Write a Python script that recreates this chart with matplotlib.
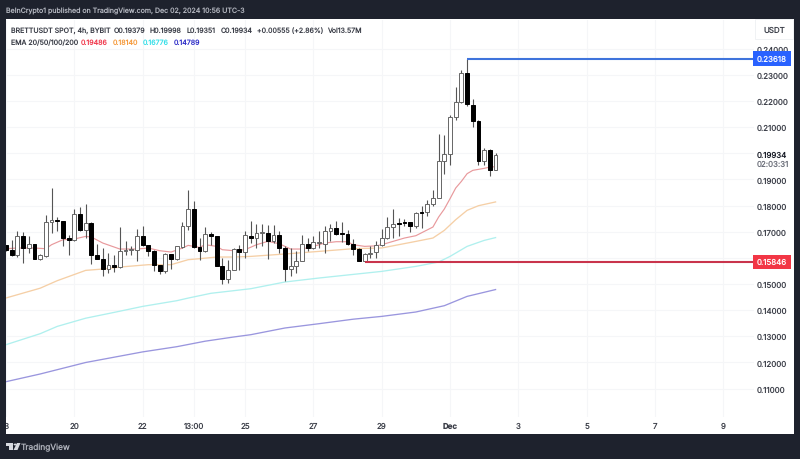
import matplotlib
matplotlib.use('Agg')
import matplotlib.pyplot as plt
from matplotlib.patches import Rectangle, Polygon
from matplotlib.transforms import Bbox

plt.rcParams['font.family'] = ['Inter', 'Roboto', 'DejaVu Sans']
plt.rcParams['text.hinting'] = 'no_hinting'
plt.rcParams['text.hinting_factor'] = 1

# 4h candles
opens = [.16479, .16288, .16122, .16848, .16377, .16530, .15956, .16084, .17371, .17460,
         .17409, .16759, .16683, .17677, .17052, .17333, .16109, .15969, .15587, .15740,
         .15638, .16275, .16313, .16313, .16848, .16479, .16249, .15740, .15485, .16160,
         .15956, .16402, .17205, .17868, .16415, .16249, .16925, .16848, .15701, .15204,
         .15548, .16326, .16211, .16848, .16747, .16950, .16950, .16632, .16887, .16377,
         .15587, .15676, .15892, .16530, .16377, .16568, .16530, .17040, .17129, .16938,
         .16925, .16543, .16351, .15892, .16160, .16225, .16505, .16760, .17193, .17346,
         .17359, .17372, .17206, .17754, .17754, .18047, .18277, .19705, .19985, .21374,
         .21973, .23082, .21859, .21247, .19692, .20125, .19379]
highs = [.16504, .16695, .17014, .16989, .16823, .16530, .16160, .17626, .18671, .17562,
         .17409, .16887, .17868, .17932, .18072, .17358, .16543, .16377, .16186, .16122,
         .17180, .16632, .16441, .17103, .17205, .16504, .16313, .15740, .16186, .16160,
         .16441, .17358, .18582, .18161, .16759, .17167, .16976, .16848, .15994, .15931,
         .16377, .16504, .17040, .17397, .17295, .17295, .17269, .17269, .17014, .16466,
         .16377, .16249, .16887, .16759, .16823, .17014, .17205, .17295, .17422, .17358,
         .17078, .16721, .16377, .16186, .16441, .16632, .17117, .17550, .17869, .17525,
         .17487, .17372, .17741, .17971, .18200, .18608, .20750, .20712, .21476, .22522,
         .23197, .23618, .22075, .21285, .20201, .20163, .19998]
lows = [.16249, .16058, .16033, .15803, .16186, .15956, .15931, .16033, .16950, .17014,
        .16466, .16122, .16632, .17040, .16759, .15778, .15956, .15293, .15421, .15459,
        .15612, .16122, .16122, .15867, .16441, .16084, .15485, .15383, .15421, .15574,
        .15931, .16377, .17078, .16377, .15931, .16211, .16504, .15676, .15000, .15038,
        .15523, .15523, .15994, .16568, .16377, .16441, .15956, .16568, .16186, .15128,
        .15293, .15421, .15867, .16249, .16351, .16377, .16186, .16632, .16887, .16594,
        .16504, .16122, .15867, .15841, .15994, .15995, .16441, .16722, .16760, .16849,
        .17231, .16977, .17142, .17142, .17589, .17996, .18277, .19220, .19564, .21260,
        .21922, .21820, .21005, .19564, .19539, .19144, .19351]
closes = [.16288, .16122, .16848, .16377, .16530, .15956, .16122, .17371, .17460, .17409,
          .16759, .16683, .17677, .17052, .17333, .16109, .15969, .15587, .15740, .15650,
          .16275, .16313, .16351, .16848, .16479, .16249, .15740, .15485, .16160, .15956,
          .16441, .17205, .17868, .16415, .16275, .16912, .16848, .15701, .15204, .15548,
          .16339, .16211, .16861, .16747, .16950, .16976, .16645, .16887, .16377, .15587,
          .15676, .15892, .16530, .16364, .16606, .16606, .17040, .17129, .16912, .16912,
          .16543, .16351, .15892, .16160, .16198, .16505, .16760, .17181, .17308, .17308,
          .17321, .17231, .17716, .17703, .18047, .18277, .19705, .19985, .21374, .21973,
          .23082, .21871, .21247, .19717, .20125, .19379, .19934]

ema20_idx = [0, 2, 5, 7, 8, 10, 12, 14, 15, 17, 20, 23, 25, 27, 29, 31, 32, 34, 35, 37, 38, 40, 42, 44,
             46, 48, 50, 52, 54, 56, 58, 60, 61, 63, 65, 66, 68, 70, 72, 75, 76, 77, 78, 79, 80, 81, 82,
             84, 85, 86]
ema20 = [.16351, .16377, .16377, .16351, .16504, .16695, .16721, .16823, .16797, .16568, .16339, .16339,
         .16377, .16275, .16224, .16377, .16479, .16402, .16504, .16441, .16313, .16275, .16313, .16504,
         .16632, .16543, .16339, .16339, .16441, .16568, .16619, .16619, .16504, .16441, .16460, .16505,
         .16632, .16760, .16849, .17181, .17563, .17869, .18264, .18672, .18927, .19220, .19348, .19424,
         .19475, .19486]
ema50_idx = [0, 6, 9, 14, 17, 20, 25, 29, 32, 34, 37, 40, 43, 49, 55, 61, 66, 72, 75, 77, 79, 81, 83, 86]
ema50 = [.14467, .14841, .15128, .15523, .15574, .15650, .15740, .15740, .15931, .15969, .16033, .16033,
         .16057, .16149, .16249, .16352, .16379, .16631, .16760, .17053, .17461, .17818, .17996, .18140]
ema100_idx = [0, 6, 9, 14, 19, 24, 30, 32, 36, 40, 43, 49, 55, 61, 66, 72, 76, 78, 81, 84, 86]
ema100 = [.12681, .13101, .13380, .13694, .13916, .14145, .14363, .14463, .14646, .14746, .14822, .15078,
          .15231, .15369, .15484, .15675, .15843, .16057, .16440, .16669, .16776]
ema200_idx = [0, 6, 14, 24, 30, 35, 40, 43, 49, 55, 61, 66, 72, 77, 81, 86]
ema200 = [.11266, .11560, .12000, .12405, .12604, .12815, .12975, .13063, .13319, .13484, .13656, .13763,
          .13931, .14172, .14528, .14789]

price_ticks = [.11, .12, .13, .14, .15, .16, .17, .18, .19, .20, .21, .22, .23, .24]
price_labels = ['0.11000', '0.12000', '0.13000', '0.14000', '0.15000', '0.16000', '0.17000', '0.18000',
                '0.19000', '', '0.21000', '0.22000', '0.23000', '0.24000']
date_ticks = [0, 12, 24, 33, 42, 54, 66, 78, 90, 102, 114, 126]
date_labels = ['18', '20', '22', '13:00', '25', '27', '29', 'Dec', '3', '5', '7', '9']

resistance = 0.23618
resistance_start = 81
support = 0.15846
support_start = 63
last_price = 0.19934

W, H = 800, 460
DARK = '#1e222d'
TEXT = '#3b3e48'
AXIS_SIZE = 5.7
HEAD_SIZE = 5.05


def px_text(x, y, s, **kw):
    """Figure text placed in picture pixels."""
    kw.setdefault('fontsize', HEAD_SIZE)
    kw.setdefault('color', TEXT)
    kw.setdefault('va', 'center')
    return fig.text(x / W, 1 - y / H, s, **kw)


fig = plt.figure(figsize=(8, 4.6), dpi=100, facecolor=DARK)
fig.add_artist(Rectangle((6 / W, 1 - 435 / H), 788 / W, 415 / H, transform=fig.transFigure,
                         facecolor='white', edgecolor='none', zorder=-5))

ax = fig.add_axes([6 / W, 1 - 417.7 / H, 748 / W, 397 / H])
ax.patch.set_alpha(0)
for spine in ax.spines.values():
    spine.set_visible(False)
ax.set_xlim(0.175, 131.4)
ax.set_ylim(.09927, .25109)
ax.grid(True, color='#f5f6f8', linewidth=0.8)
ax.set_axisbelow(True)

ax.plot(ema200_idx, ema200, color='#9a96de', linewidth=0.95, zorder=1.5)
ax.plot(ema100_idx, ema100, color='#b0f0ee', linewidth=0.95, zorder=1.5)
ax.plot(ema50_idx, ema50, color='#f5cfa6', linewidth=0.95, zorder=1.5)
ax.plot(ema20_idx, ema20, color='#e8999c', linewidth=0.85, zorder=1.5)

for i in range(len(opens)):
    ax.vlines(i, lows[i], highs[i], color='#555555', linewidth=0.8, zorder=2)
    up = closes[i] >= opens[i]
    ax.bar(i, abs(closes[i] - opens[i]), bottom=min(opens[i], closes[i]), width=0.68,
           facecolor='white' if up else 'black', edgecolor='#666666' if up else 'black',
           linewidth=0.7, zorder=2.2)

ax.hlines(resistance, resistance_start, 131.4, color='#3f74dc', linewidth=1.5, zorder=2.5)
ax.hlines(support, support_start, 131.4, color='#c9344c', linewidth=1.5, zorder=2.5)

ax.yaxis.tick_right()
ax.set_yticks(price_ticks, price_labels)
ax.set_xticks(date_ticks, date_labels)
ax.tick_params(axis='y', length=0, pad=2.2, labelsize=AXIS_SIZE, labelcolor=TEXT)
ax.tick_params(axis='x', length=0, pad=4, labelsize=AXIS_SIZE, labelcolor=TEXT)
panel_box = Bbox([[6, 0], [794, H]])
for label in ax.get_xticklabels():
    label.set_clip_box(panel_box)
    label.set_clip_on(True)
    if label.get_text() == 'Dec':
        label.set_fontweight('bold')

trans = ax.get_yaxis_transform()
ax.text(1.004, resistance, '%.5f' % resistance, transform=trans, color='white', fontsize=AXIS_SIZE, va='center',
        bbox=dict(boxstyle='square,pad=0.45', fc='#2962ff', ec='none'), zorder=5)
ax.text(1.004, support, '%.5f' % support, transform=trans, color='white', fontsize=AXIS_SIZE, va='center',
        bbox=dict(boxstyle='square,pad=0.45', fc='#f23645', ec='none'), zorder=5)
ax.text(1.004, last_price, '%.5f' % last_price, transform=trans, color='#131722', fontsize=AXIS_SIZE, va='center',
        bbox=dict(boxstyle='square,pad=0.2', fc='white', ec='none'), zorder=5)
px_text(757, 165, '02:03:31', color='#6a6d78', fontsize=AXIS_SIZE)

# usdt box in the price scale corner
fig.add_artist(Rectangle((755 / W, 1 - 40 / H), 38 / W, 20 / H, transform=fig.transFigure,
                         facecolor='white', edgecolor='#eef0f3', linewidth=0.6))
px_text(774, 31, 'USDT', ha='center', fontsize=AXIS_SIZE)

# header rows
px_text(6, 11, 'BeInCrypto1 published on TradingView.com, Dec 02, 2024 10:56 UTC-3', color='#b2b5be')
px_text(11, 31, 'BRETTUSDT SPOT, 4h, BYBIT')
px_text(114, 31, 'O0.19379')
px_text(150, 31, 'H0.19998')
px_text(187, 31, 'L0.19351')
px_text(221, 31, 'C0.19934')
px_text(257, 31, '+0.00555 (+2.86%)')
px_text(327, 31, 'Vol13.57M')
px_text(11, 43, 'EMA 20/50/100/200')
px_text(81, 43, '0.19486', color='#f0394d')
px_text(113, 43, '0.18140', color='#f59a3c')
px_text(143, 43, '0.16776', color='#36dfe8')
px_text(174, 43, '0.14789', color='#3030c8')

# tradingview mark
logo = [[(6, 444), (13, 444), (13, 451), (9, 451), (9, 447), (6, 447)],
        [(17, 444), (20.5, 444), (17.5, 451), (13.5, 451)]]
for shape in logo:
    fig.add_artist(Polygon([(x / W, 1 - y / H) for x, y in shape], transform=fig.transFigure,
                           facecolor='#d8dae0', edgecolor='none'))
fig.add_artist(plt.Circle((15.2 / W, 1 - 445.5 / H), 0.002, transform=fig.transFigure,
                          facecolor='#d8dae0', edgecolor='none'))
px_text(21, 448, 'TradingView', color='#b2b5be', fontsize=6.0)

fig.savefig('out.png', dpi=100, facecolor=DARK)
